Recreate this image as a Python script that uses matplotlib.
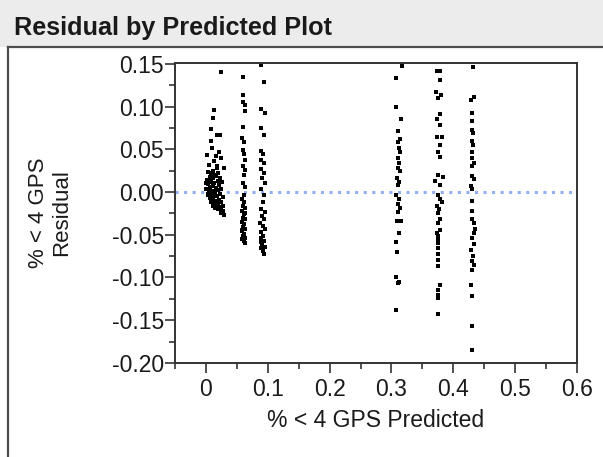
import matplotlib.pyplot as plt
from matplotlib.patches import Rectangle
from matplotlib.lines import Line2D
from matplotlib.ticker import MultipleLocator

plt.rcParams['font.family'] = ['Liberation Sans', 'DejaVu Sans']
plt.rcParams['axes.unicode_minus'] = False

# predicted / residual pairs, one group per predicted level
pred_a = [0.024, 0.013, 0.011, 0.009, 0.018, 0.023, 0.008, 0.010, 0.002, 0.016,
          0.025, 0.005, 0.018, 0.030, 0.013, 0.022,
          0.003, 0.008, 0.012, 0.020, 0.006, 0.011, 0.016, 0.002, 0.009, 0.014,
          0.019, 0.004, 0.007, 0.012, 0.017, 0.022, 0.001, 0.005, 0.010, 0.015,
          0.020, 0.025, 0.003, 0.008, 0.013, 0.018, 0.023, 0.006, 0.011, 0.016,
          0.021, 0.027, 0.009, 0.014, 0.019, 0.024, 0.012, 0.017, 0.022, 0.027,
          0.015, 0.020, 0.025, 0.019, 0.028, 0.024, 0.030, 0.001, 0.006, 0.013,
          0.018, 0.023, 0.026, 0.004, 0.010]
resid_a = [0.141, 0.096, 0.087, 0.074, 0.067, 0.067, 0.060, 0.052, 0.043, 0.042,
           0.040, 0.032, 0.031, 0.028, 0.036, 0.047,
           0.024, 0.022, 0.025, 0.022, 0.018, 0.016, 0.019, 0.014, 0.012, 0.011,
           0.013, 0.009, 0.006, 0.007, 0.005, 0.008, 0.004, 0.002, 0.001, 0.000,
           0.002, 0.003, -0.002, -0.004, -0.003, -0.005, -0.002, -0.007, -0.008, -0.010,
           -0.009, -0.006, -0.012, -0.013, -0.014, -0.012, -0.016, -0.017, -0.018, -0.016,
           -0.019, -0.020, -0.021, -0.015, -0.022, -0.024, -0.027, 0.010, 0.013, 0.020,
           0.028, 0.017, 0.012, -0.004, -0.009]

pred_b = [0.060, 0.060, 0.060, 0.064, 0.064, 0.060, 0.059, 0.061, 0.060, 0.062,
          0.063, 0.060, 0.064, 0.062, 0.060, 0.064, 0.061,
          0.058, 0.062, 0.060, 0.064, 0.059, 0.062, 0.060, 0.064, 0.058, 0.062,
          0.060, 0.064, 0.059, 0.062, 0.060, 0.064, 0.061, 0.063, 0.058, 0.058, 0.064]
resid_b = [0.135, 0.114, 0.106, 0.102, 0.095, 0.076, 0.063, 0.058, 0.049, 0.045,
           0.038, 0.030, 0.026, 0.020, 0.010, 0.006, -0.003,
           -0.008, -0.012, -0.016, -0.019, -0.022, -0.026, -0.030, -0.032, -0.035, -0.038,
           -0.041, -0.043, -0.046, -0.049, -0.052, -0.054, -0.057, -0.060, -0.055, -0.044, -0.024]

pred_c = [0.090, 0.094, 0.090, 0.095, 0.090, 0.094, 0.089, 0.093, 0.090, 0.094,
          0.090, 0.094, 0.091, 0.095, 0.090, 0.094,
          0.092, 0.089, 0.095, 0.091, 0.094, 0.088, 0.092, 0.095, 0.090, 0.093,
          0.089, 0.094, 0.091, 0.095, 0.089, 0.092, 0.094, 0.090]
resid_c = [0.149, 0.129, 0.097, 0.093, 0.075, 0.067, 0.048, 0.044, 0.038, 0.034,
           0.027, 0.022, 0.016, 0.011, 0.003, -0.004,
           -0.012, -0.020, -0.023, -0.028, -0.032, -0.036, -0.040, -0.043, -0.047, -0.051,
           -0.054, -0.057, -0.061, -0.064, -0.066, -0.069, -0.072, -0.058]

pred_d = [0.317, 0.308, 0.308, 0.316, 0.311, 0.314, 0.310, 0.312, 0.314, 0.310,
          0.313, 0.310, 0.314, 0.309, 0.313, 0.310, 0.308, 0.313, 0.310, 0.314,
          0.311, 0.309, 0.316, 0.313, 0.308, 0.309, 0.308, 0.313, 0.310, 0.308]
resid_d = [0.147, 0.134, 0.099, 0.086, 0.072, 0.062, 0.058, 0.052, 0.047, 0.040,
           0.034, 0.028, 0.025, 0.016, 0.012, 0.008, -0.004, -0.008, -0.014, -0.019,
           -0.023, -0.034, -0.034, -0.048, -0.058, -0.070, -0.099, -0.105, -0.106, -0.138]

pred_e = [0.374, 0.379, 0.378, 0.372, 0.380, 0.375, 0.379, 0.373, 0.379, 0.373,
          0.381, 0.378, 0.376, 0.378, 0.376, 0.383, 0.371, 0.379, 0.376, 0.379,
          0.382, 0.373, 0.377, 0.375, 0.379, 0.376, 0.378, 0.374, 0.376, 0.375,
          0.376, 0.375, 0.375, 0.375, 0.375, 0.379, 0.375, 0.375, 0.375, 0.375]
resid_e = [0.142, 0.142, 0.131, 0.117, 0.114, 0.110, 0.091, 0.086, 0.079, 0.064,
           0.064, 0.055, 0.047, 0.041, 0.020, 0.018, 0.013, 0.008, -0.003, -0.008,
           -0.012, -0.016, -0.020, -0.025, -0.031, -0.036, -0.045, -0.048, -0.052, -0.056,
           -0.060, -0.066, -0.072, -0.080, -0.087, -0.109, -0.115, -0.120, -0.124, -0.143]

pred_f = [0.432, 0.428, 0.433, 0.431, 0.430, 0.430, 0.432, 0.430, 0.432, 0.430,
          0.430, 0.433, 0.431, 0.430, 0.433, 0.428, 0.431, 0.430, 0.430, 0.431,
          0.433, 0.435, 0.434, 0.430, 0.433, 0.429, 0.432, 0.430, 0.434, 0.430,
          0.429, 0.430, 0.430, 0.430]
resid_f = [0.146, 0.108, 0.111, 0.093, 0.083, 0.073, 0.069, 0.060, 0.055, 0.047,
           0.040, 0.034, 0.030, 0.019, 0.015, 0.007, 0.003, -0.011, -0.022, -0.031,
           -0.036, -0.043, -0.048, -0.054, -0.061, -0.068, -0.075, -0.081, -0.086, -0.091,
           -0.109, -0.122, -0.157, -0.185]

predicted = pred_a + pred_b + pred_c + pred_d + pred_e + pred_f
residual = resid_a + resid_b + resid_c + resid_d + resid_e + resid_f

fig = plt.figure(figsize=(6.03, 4.57), dpi=100)

# report header strip and panel frame
fig.patches.append(Rectangle((0, 0.897), 1, 0.103, transform=fig.transFigure,
                             facecolor='#ececec', edgecolor='none', zorder=0))
fig.add_artist(Line2D([0.013, 1], [0.897, 0.897], transform=fig.transFigure,
                      color='#4d4d4d', lw=1.6))
fig.add_artist(Line2D([0.014, 0.014], [0, 0.897], transform=fig.transFigure,
                      color='#4d4d4d', lw=1.6))
fig.text(0.023, 0.938, 'Residual by Predicted Plot', fontsize=18.2,
         fontweight='bold', color='#1a1a1a', va='center', ha='left')

ax = fig.add_axes([0.290, 0.206, 0.667, 0.656])
ax.axhline(0, color='#8fb0f5', lw=2.2, linestyle=(0, (1, 1.8)), zorder=1)
ax.scatter(predicted, residual, s=9, marker='s', color='black', linewidths=0, zorder=2)

ax.set_xlim(-0.05, 0.6)
ax.set_ylim(-0.2, 0.151)
ax.xaxis.set_major_locator(MultipleLocator(0.1))
ax.xaxis.set_minor_locator(MultipleLocator(0.05))
ax.yaxis.set_major_locator(MultipleLocator(0.05))
ax.yaxis.set_minor_locator(MultipleLocator(0.025))
ax.set_xticks([0, 0.1, 0.2, 0.3, 0.4, 0.5, 0.6])
ax.set_xticklabels(['0', '0.1', '0.2', '0.3', '0.4', '0.5', '0.6'])
ax.yaxis.set_major_formatter(lambda v, p: f'{v:.2f}'.replace('-0.00', '0.00'))

for s in ax.spines.values():
    s.set_color('#333333')
    s.set_linewidth(1.4)
ax.tick_params(which='major', length=7, width=1.2, color='#333333',
               labelsize=16.5, labelcolor='#1a1a1a')
ax.tick_params(which='minor', length=4, width=1.2, color='#333333')
ax.tick_params(axis='y', pad=1)
ax.tick_params(axis='x', pad=4)

ax.set_xlabel('% < 4 GPS Predicted', fontsize=16.5, color='#1a1a1a', labelpad=6)
fig.text(0.083, 0.534, '% < 4 GPS\nResidual', rotation=90, fontsize=16,
         color='#1a1a1a', ha='center', va='center', multialignment='center',
         linespacing=1.15)

fig.savefig('out.png', dpi=100)
